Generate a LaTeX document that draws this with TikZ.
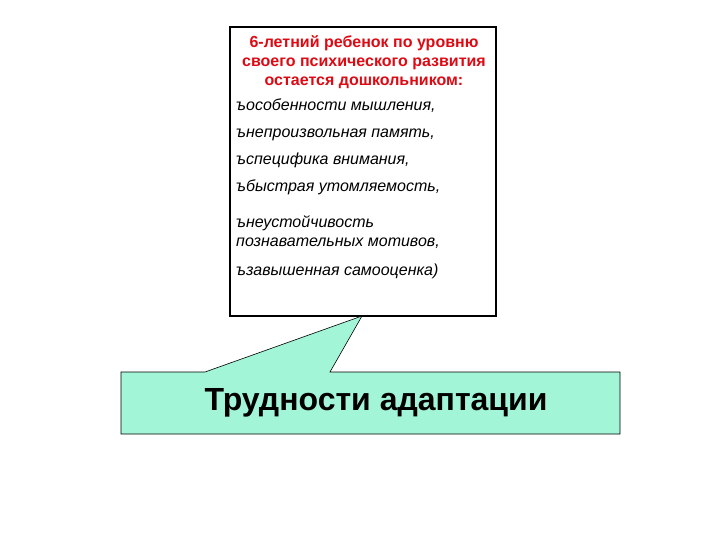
\documentclass[tikz,border=0pt]{standalone}
\usepackage{fontspec}
\setmainfont{Liberation Sans}
\usepackage{tikz}
\usetikzlibrary{positioning}
\definecolor{calloutgreen}{HTML}{A2F5D6}
\definecolor{titlered}{HTML}{DD0A14}

\begin{document}
\begin{tikzpicture}[x=1pt, y=-1pt]
   \useasboundingbox (0,0) rectangle (720,540);
   % top panel
   \node (panel) [draw, line width=1.6pt, minimum width=266pt, minimum height=289pt, inner sep=0pt] at (363,171.5) {};
   \node (title) [text=titlered, font=\bfseries\fontsize{16}{19}\selectfont, align=center] at (364,62) {6-летний ребенок по уровню\\своего психического развития\\остается дошкольником:};
   \begin{scope}[every node/.style={anchor=base west, inner sep=0pt, font=\itshape\fontsize{16}{19}\selectfont, align=left}]
    \node (i1) at (236,111) {ъособенности мышления,};
    \node (i2) at (236,138) {ънепроизвольная память,};
    \node (i3) at (236,165) {ъспецифика внимания,};
    \node (i4) at (236,192) {ъбыстрая утомляемость,};
    \node (i5) at (236,246) {ънеустойчивость\\познавательных мотивов,};
    \node (i6) at (236,275) {ъзавышенная самооценка)};
   \end{scope}
   % callout
   \coordinate (tip) at (362,316);
   \draw[fill=calloutgreen, line width=0.6pt] (121,372) -- (205,372) -- (tip) -- (330,372) -- (620,372) -- (620,434) -- (121,434) -- cycle;
   \node (callout) [font=\bfseries\fontsize{32}{36}\selectfont] at (376,403) {Трудности адаптации};
\end{tikzpicture}
\end{document}
